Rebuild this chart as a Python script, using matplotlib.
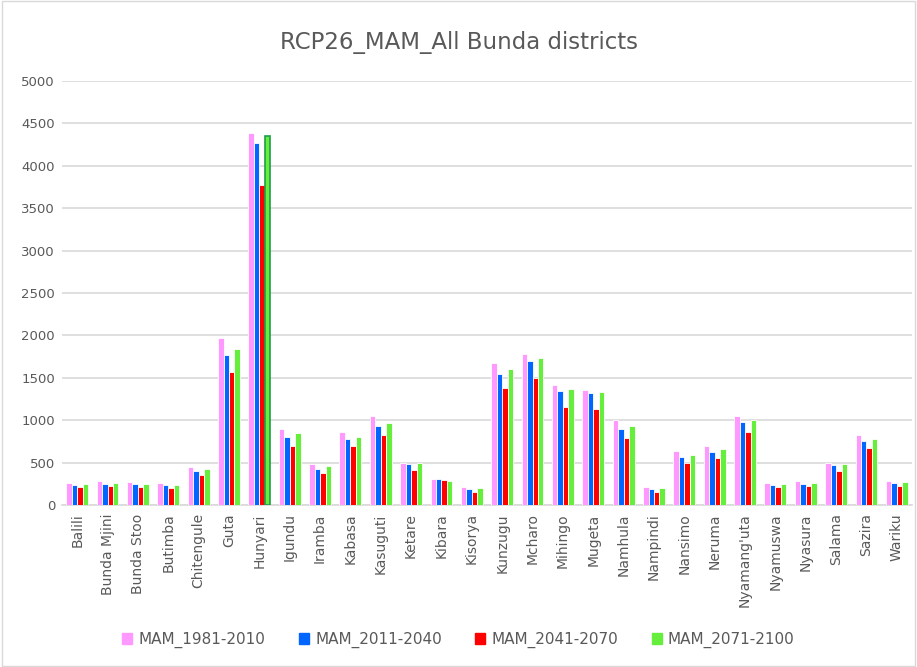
import matplotlib
matplotlib.use("Agg")
import matplotlib.pyplot as plt
import numpy as np

districts = ["Balili", "Bunda Mjini", "Bunda Stoo", "Butimba", "Chitengule", "Guta",
             "Hunyari", "Igundu", "Iramba", "Kabasa", "Kasuguti", "Ketare", "Kibara",
             "Kisorya", "Kunzugu", "Mcharo", "Mihingo", "Mugeta", "Namhula", "Nampindi",
             "Nansimo", "Neruma", "Nyamang'uta", "Nyamuswa", "Nyasura", "Salama",
             "Sazira", "Wariku"]

mam_1981_2010 = [256, 280, 268, 256, 445, 1968, 4390, 900, 480, 857, 1046, 499, 310,
                 209, 1671, 1781, 1413, 1356, 999, 209, 637, 700, 1050, 256, 280, 492,
                 825, 280]
mam_2011_2040 = [232, 244, 244, 232, 401, 1769, 4272, 802, 421, 778, 935, 480, 303,
                 189, 1548, 1694, 1344, 1317, 893, 189, 566, 625, 979, 232, 244, 468,
                 755, 256]
mam_2041_2070 = [212, 220, 212, 200, 354, 1568, 3770, 700, 377, 692, 825, 413, 291,
                 153, 1380, 1501, 1156, 1136, 790, 153, 492, 558, 857, 212, 220, 401,
                 668, 220]
mam_2071_2100 = [244, 256, 244, 232, 425, 1836, 4355, 845, 456, 798, 967, 492, 280,
                 200, 1604, 1733, 1368, 1336, 935, 200, 590, 657, 1002, 244, 256, 480,
                 778, 268]

series_names = ["MAM_1981-2010", "MAM_2011-2040", "MAM_2041-2070", "MAM_2071-2100"]
series = [mam_1981_2010, mam_2011_2040, mam_2041_2070, mam_2071_2100]
colors = ["#FF99FF", "#0066FF", "#FF0000", "#66EE3C"]

fig = plt.figure(figsize=(9.17, 6.67), dpi=100)
ax = fig.add_axes([62 / 917, 1 - 505 / 667, 850 / 917, 424 / 667])

x = np.arange(len(districts))
slot = 0.18
bars_all = []
for i, (vals, col, name) in enumerate(zip(series, colors, series_names)):
    b = ax.bar(x + (i - 1.5) * slot, vals, width=slot, color=col, edgecolor="white",
               linewidth=0.6, label=name, zorder=3)
    bars_all.append(b)
# highlighted (selected) bar outline as in the reference
bars_all[3][6].set_edgecolor("#1E9E4A")
bars_all[3][6].set_linewidth(1.2)

ax.set_xlim(-0.5, len(districts) - 0.5)
ax.set_ylim(0, 5000)
ax.set_yticks(np.arange(0, 5001, 500))
ax.yaxis.grid(True, color="#D9D9D9", linewidth=1.2, zorder=0)
ax.set_axisbelow(True)
for s in ["top", "right", "left"]:
    ax.spines[s].set_visible(False)
ax.spines["bottom"].set_color("#D9D9D9")
ax.spines["bottom"].set_linewidth(1.2)
ax.set_xticks(x)
ax.set_xticklabels(districts, rotation=90, fontsize=10, color="#595959")
ax.tick_params(axis="x", length=0, pad=6)
ax.tick_params(axis="y", length=0, labelsize=9.5, labelcolor="#595959", pad=5)

fig.text(0.5, 1 - 42 / 667, "RCP26_MAM_All Bunda districts", ha="center", va="center",
         fontsize=16.5, color="#595959")

handles = [plt.Rectangle((0, 0), 1, 1, color=c) for c in colors]
fig.legend(handles, series_names, loc="center", bbox_to_anchor=(0.5, 1 - 640 / 667),
           ncol=4, frameon=False, fontsize=11, handlelength=0.65, handleheight=0.65,
           columnspacing=2.2, handletextpad=0.4, labelcolor="#595959")

border = plt.Rectangle((0.002, 0.002), 0.996, 0.996, transform=fig.transFigure,
                       fill=False, edgecolor="#D9D9D9", linewidth=1)
fig.patches.append(border)

fig.savefig("out.png", dpi=100)
